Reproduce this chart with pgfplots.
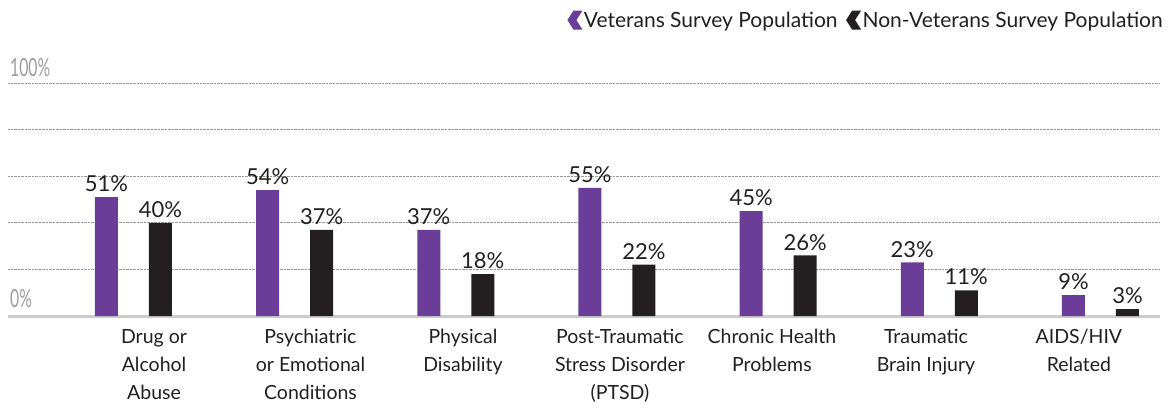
\documentclass[border=0pt]{standalone}
\usepackage{pgfplots}
\pgfplotsset{compat=1.18}
\usepackage{fontspec}
\setmainfont{Lato}
\definecolor{vet}{HTML}{6A3D98}
\definecolor{nonvet}{HTML}{231F20}
\definecolor{txt}{HTML}{231F20}
\definecolor{gridc}{HTML}{9A9A9A}
\definecolor{basec}{HTML}{CCCCCC}
\definecolor{ylab}{HTML}{9C9C9C}
\begin{document}
\begin{tikzpicture}
\path[use as bounding box] (-8pt,-94pt) rectangle (1163pt,316pt);
\begin{axis}[
 at={(0pt,0pt)}, anchor=south west, clip=false,
 scale only axis, width=1152pt, height=233pt,
 xmin=-0.611, xmax=6.537, ymin=0, ymax=100,
 axis line style={draw=none},
 ytick={20,40,60,80,100}, yticklabels={},
 ymajorgrids, grid style={densely dotted, gridc, line width=0.8pt},
 extra y ticks={0}, extra y tick labels={},
 extra y tick style={grid style={solid, basec, line width=3pt}},
 major tick length=0pt,
 xtick={0.295,1.266,2.212,3.186,4.129,5.085,6.034},
 xticklabels={Drug or\\Alcohol\\Abuse, Psychiatric\\or Emotional\\Conditions, Physical\\Disability, Post-Traumatic\\Stress Disorder\\(PTSD), Chronic Health\\Problems, Traumatic\\Brain Injury, AIDS/HIV\\Related},
 xticklabel style={align=center, font=\fontsize{19.5}{28}\selectfont, text=txt, anchor=north, inner sep=0pt, yshift=-13pt},
 ybar, bar width=0.1427, bar shift=0pt,
 nodes near coords={\pgfmathprintnumber[assume math mode=true]{\pgfplotspointmeta}\%},
 every node near coord/.append style={font=\fontsize{22}{26}\selectfont, text=txt, inner sep=0pt, anchor=south, yshift=5pt},
 legend style={at={(1.003,1.27)}, anchor=east, draw=none, fill=none, inner sep=0pt,
   font=\fontsize{21}{24}\selectfont, text=txt, legend columns=2,
   nodes={inner sep=0.5pt},
   /tikz/every odd column/.append style={column sep=1pt},
   /tikz/every even column/.append style={column sep=8pt}},
 legend image code/.code={\fill (0pt,0pt) -- (6pt,9.5pt) -- (15pt,9.5pt) -- (9pt,0pt) -- (15pt,-9.5pt) -- (6pt,-9.5pt) -- cycle;},
]
\addplot[fill=vet, draw=none] coordinates {(0,51) (1,54) (2,37) (3,55) (4,45) (5,23) (6,9)};
\addlegendentry{Veterans Survey Population}
\addplot[fill=nonvet, draw=none] coordinates {(0.335,40) (1.335,37) (2.335,18) (3.335,22) (4.335,26) (5.335,11) (6.335,3)};
\addlegendentry{Non-Veterans Survey Population}
\node[anchor=south west, text=ylab, inner sep=0pt, font=\fontsize{25}{28}\selectfont] at ([xshift=2pt,yshift=6pt]rel axis cs:0,1) {\scalebox{0.63}[1]{100\%}};
\node[anchor=south west, text=ylab, inner sep=0pt, font=\fontsize{25}{28}\selectfont] at ([xshift=2pt,yshift=8pt]rel axis cs:0,0) {\scalebox{0.63}[1]{0\%}};
\end{axis}
\end{tikzpicture}
\end{document}
